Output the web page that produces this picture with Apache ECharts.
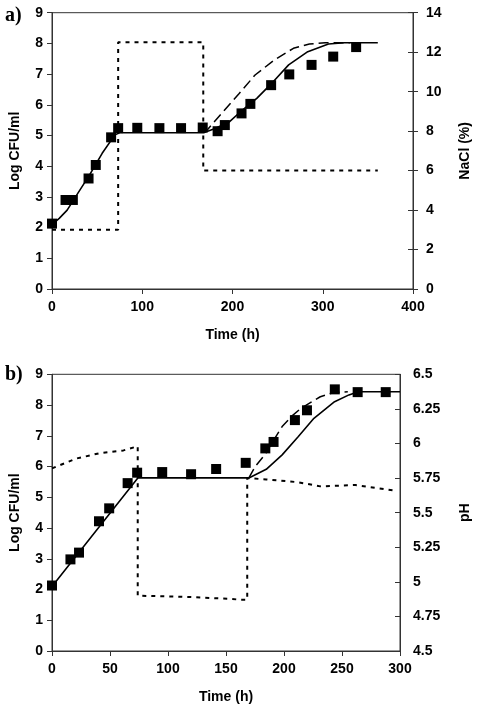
<!DOCTYPE html>
<html>
<head>
<meta charset="utf-8">
<script src="https://cdn.jsdelivr.net/npm/echarts@6/dist/echarts.min.js"></script>
<style>
html,body{margin:0;padding:0;background:#fff;}
#c{width:480px;height:708px;}
</style>
</head>
<body>
<div id="c"></div>
<script>
// ---- Panel a) data ----
const timeA_obs = [0, 15, 23.1, 40.5, 48.5, 65.5, 73.3, 94.5, 119, 143, 167, 183.5, 191.5, 210, 219.8, 242.8, 262.9, 287.6, 311.6, 337];
const logA_obs  = [2.13, 2.9, 2.9, 3.6, 4.04, 4.94, 5.24, 5.25, 5.24, 5.24, 5.26, 5.14, 5.34, 5.72, 6.03, 6.64, 6.99, 7.3, 7.57, 7.88];
const timeA_solid = [0, 8, 16.8, 27.3, 41.5, 55.6, 69.7, 75, 100, 168, 180, 196.8, 211, 226.9, 242.8, 262.2, 283.4, 306.3, 324, 361];
const logA_solid  = [2.1, 2.3, 2.57, 3.06, 3.71, 4.42, 5.02, 5.09, 5.09, 5.09, 5.22, 5.45, 5.83, 6.21, 6.68, 7.3, 7.73, 7.98, 8.02, 8.02];
const timeA_dash = [168, 172, 189.8, 207.4, 225, 246.3, 267.5, 285.2, 302.8, 330];
const logA_dash  = [5.09, 5.18, 5.78, 6.37, 6.97, 7.46, 7.84, 7.98, 8.02, 8.02];
const timeA_nacl = [0, 73.3, 73.3, 167.6, 167.6, 361];
const naclA      = [3, 3, 12.5, 12.5, 6, 6];
const timeA_ticks = [0, 100, 200, 300, 400];
const logTicks = [0, 1, 2, 3, 4, 5, 6, 7, 8, 9];
const naclTicks = [0, 2, 4, 6, 8, 10, 12, 14];

// ---- Panel b) data ----
const timeB_obs = [0, 15.9, 23.3, 40.5, 49.3, 65.2, 73.4, 95, 119.9, 141.5, 167, 183.9, 191, 209.4, 219.8, 243.8, 263.5, 287.7];
const logB_obs  = [2.13, 2.98, 3.2, 4.22, 4.64, 5.46, 5.8, 5.82, 5.75, 5.92, 6.12, 6.59, 6.8, 7.51, 7.83, 8.51, 8.42, 8.42];
const timeB_solid = [0, 74, 169.7, 184.7, 198.4, 212.2, 225.8, 243.6, 256, 264, 300];
const logB_solid  = [2.1, 5.63, 5.63, 5.91, 6.38, 6.97, 7.57, 8.11, 8.33, 8.43, 8.43];
const timeB_dash = [169.7, 175.2, 183.4, 191, 198.4, 206.7, 214.8, 231.3, 242.2, 255];
const logB_dash  = [5.63, 6.0, 6.38, 6.85, 7.3, 7.64, 7.9, 8.27, 8.4, 8.43];
const timeB_ph = [0, 20.5, 41, 61.6, 73.9, 73.9, 120, 155, 163, 168.3, 168.3, 184.7, 212.2, 231.3, 261.4, 295.5];
const phB      = [5.82, 5.89, 5.93, 5.95, 5.98, 4.9, 4.89, 4.876, 4.87, 4.87, 5.75, 5.74, 5.72, 5.69, 5.7, 5.66];
const timeB_ticks = [0, 50, 100, 150, 200, 250, 300];
const phTicks = [4.5, 4.75, 5, 5.25, 5.5, 5.75, 6, 6.25, 6.5];

function pairs(xs, ys) { return xs.map((x, i) => [x, ys[i]]); }

const AX = '#333';
const lab = { color: '#000', fontWeight: 'bold', fontSize: 14, fontFamily: 'Liberation Sans, Arial, sans-serif' };
const nameStyle = { color: '#000', fontWeight: 'bold', fontSize: 14, fontFamily: 'Liberation Sans, Arial, sans-serif' };

function xAx(gridIndex, ticks) {
  return {
    type: 'value', gridIndex, min: ticks[0], max: ticks[ticks.length - 1], interval: ticks[1] - ticks[0],
    name: 'Time (h)', nameLocation: 'middle', nameGap: 39, nameTextStyle: nameStyle,
    axisLine: { show: true, lineStyle: { color: AX, width: 1 } },
    axisTick: { show: true, inside: false, length: 5, lineStyle: { color: AX } },
    axisLabel: Object.assign({ margin: 11 }, lab),
    splitLine: { show: false }
  };
}
function yAx(gridIndex, ticks, opts) {
  return Object.assign({
    type: 'value', gridIndex, min: ticks[0], max: ticks[ticks.length - 1], interval: ticks[1] - ticks[0],
    nameLocation: 'middle', nameTextStyle: nameStyle, nameRotate: 90,
    axisLine: { show: true, lineStyle: { color: AX, width: 1 } },
    axisTick: { show: true, inside: false, length: 5, lineStyle: { color: AX } },
    axisLabel: Object.assign({ margin: 9 }, lab),
    splitLine: { show: false }
  }, opts);
}

const chart = echarts.init(document.getElementById('c'), null, { renderer: 'canvas' });
const markerStyle = { color: '#000', opacity: 1 };
const option = {
  animation: false,
  backgroundColor: '#fff',
  title: [
    { text: 'a)', left: 0, top: 1, textStyle: { fontFamily: 'Liberation Serif, Times New Roman, serif', fontWeight: 'bold', fontSize: 20, color: '#000' } },
    { text: 'b)', left: 0, top: 360, textStyle: { fontFamily: 'Liberation Serif, Times New Roman, serif', fontWeight: 'bold', fontSize: 20, color: '#000' } }
  ],
  grid: [
    { left: 47.5, top: 12.7, width: 377.5, height: 276.3, show: true, borderColor: AX, borderWidth: 1, backgroundColor: 'transparent' },
    { left: 48.3, top: 374.3, width: 365.4, height: 276.7, show: true, borderColor: AX, borderWidth: 1, backgroundColor: 'transparent' }
  ],
  xAxis: [xAx(0, timeA_ticks), xAx(1, timeB_ticks)],
  yAxis: [
    yAx(0, logTicks, { name: 'Log CFU/ml', nameGap: 30, position: 'left' }),
    yAx(0, naclTicks, { name: 'NaCl (%)', nameGap: 45, position: 'right', axisLabel: Object.assign({ margin: 13 }, lab) }),
    yAx(0, naclTicks, { position: 'right', axisLabel: { show: false }, axisLine: { show: false }, axisTick: { show: true, inside: true, length: 5, lineStyle: { color: AX } } }),
    yAx(1, logTicks, { name: 'Log CFU/ml', nameGap: 30, position: 'left' }),
    yAx(1, phTicks, { name: 'pH', nameGap: 58, position: 'right', axisTick: { show: true, inside: true, length: 5, lineStyle: { color: AX } }, axisLabel: Object.assign({ margin: 13 }, lab) })
  ],
  series: [
    { type: 'line', xAxisIndex: 0, yAxisIndex: 1, data: pairs(timeA_nacl, naclA), symbol: 'none', lineStyle: { color: '#000', width: 2, type: [4, 5] }, z: 1 },
    { type: 'line', xAxisIndex: 0, yAxisIndex: 0, data: pairs(timeA_dash, logA_dash), symbol: 'none', lineStyle: { color: '#000', width: 1.5, type: [10, 5] }, z: 2 },
    { type: 'line', xAxisIndex: 0, yAxisIndex: 0, data: pairs(timeA_solid, logA_solid), symbol: 'none', lineStyle: { color: '#000', width: 1.6 }, z: 2 },
    { type: 'scatter', xAxisIndex: 0, yAxisIndex: 0, data: pairs(timeA_obs, logA_obs), symbol: 'rect', symbolSize: 10, itemStyle: markerStyle, z: 3 },

    { type: 'line', xAxisIndex: 1, yAxisIndex: 4, data: pairs(timeB_ph, phB), symbol: 'none', lineStyle: { color: '#000', width: 2, type: [4, 5] }, z: 1 },
    { type: 'line', xAxisIndex: 1, yAxisIndex: 3, data: pairs(timeB_dash, logB_dash), symbol: 'none', lineStyle: { color: '#000', width: 1.5, type: [10, 5] }, z: 2 },
    { type: 'line', xAxisIndex: 1, yAxisIndex: 3, data: pairs(timeB_solid, logB_solid), symbol: 'none', lineStyle: { color: '#000', width: 1.6 }, z: 2 },
    { type: 'scatter', xAxisIndex: 1, yAxisIndex: 3, data: pairs(timeB_obs, logB_obs), symbol: 'rect', symbolSize: 10, itemStyle: markerStyle, z: 3 }
  ]
};
chart.setOption(option);
</script>
</body>
</html>
